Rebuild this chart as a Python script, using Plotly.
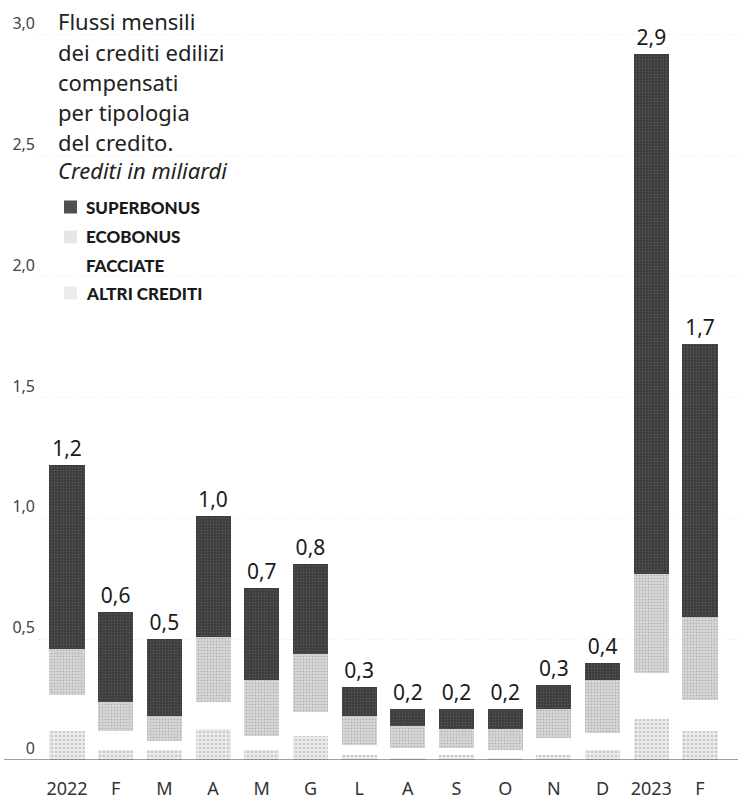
import plotly.graph_objects as go

# ---- data (miliardi di euro) ----
months = ["2022", "F", "M", "A", "M", "G", "L", "A", "S", "O", "N", "D", "2023", "F"]
superbonus = [0.76, 0.37, 0.32, 0.50, 0.38, 0.37, 0.12, 0.07, 0.08, 0.08, 0.10, 0.07, 2.15, 1.13]
ecobonus   = [0.19, 0.12, 0.10, 0.27, 0.23, 0.24, 0.12, 0.09, 0.08, 0.09, 0.12, 0.22, 0.41, 0.34]
facciate   = [0.15, 0.08, 0.04, 0.11, 0.06, 0.10, 0.04, 0.04, 0.03, 0.03, 0.07, 0.07, 0.19, 0.13]
altri      = [0.12, 0.04, 0.04, 0.13, 0.04, 0.10, 0.02, 0.01, 0.02, 0.01, 0.02, 0.04, 0.17, 0.12]
y_ticks = [0, 0.5, 1.0, 1.5, 2.0, 2.5, 3.0]
y_ticktext = ["0", "0,5", "1,0", "1,5", "2,0", "2,5", "3,0"]
title_lines = ["Flussi mensili", "dei crediti edilizi", "compensati", "per tipologia",
               "del credito.", "<i>Crediti in miliardi</i>"]
legend_names = ["SUPERBONUS", "ECOBONUS", "FACCIATE", "ALTRI CREDITI"]

xs = list(range(len(months)))
totals = [a + b + c + d for a, b, c, d in zip(superbonus, ecobonus, facciate, altri)]
total_text = [f"{t:.1f}".replace(".", ",") for t in totals]

W, H = 738, 799
ML, MR, MT, MB = 38, 0, 10, 39
PW, PH = W - ML - MR, H - MT - MB

def px_x(x):
    return (x - ML) / PW

def px_y(y):
    return (H - MB - y) / PH

FONT = "Noto Sans"

fig = go.Figure()
fig.add_bar(x=xs, y=altri, name="ALTRI CREDITI",
            marker=dict(color="#e3e3e3", line=dict(width=0),
                        pattern=dict(shape=".", fgcolor="#a5a5a5", bgcolor="#ececec",
                                     size=4, solidity=0.35)))
fig.add_bar(x=xs, y=facciate, name="FACCIATE",
            marker=dict(color="#ffffff", line=dict(width=0)))
fig.add_bar(x=xs, y=ecobonus, name="ECOBONUS",
            marker=dict(color="#cdcdcd", line=dict(width=0),
                        pattern=dict(shape=".", fgcolor="#8f8f8f", bgcolor="#d9d9d9",
                                     size=3, solidity=0.35)))
fig.add_bar(x=xs, y=superbonus, name="SUPERBONUS",
            text=total_text, textposition="outside", cliponaxis=False,
            textfont=dict(family=FONT, size=21, color="#1a1a1a"),
            marker=dict(color="#3c3c3c", line=dict(width=0),
                        pattern=dict(shape=".", fgcolor="#727272", bgcolor="#3a3a3a",
                                     size=3, solidity=0.3)))

fig.update_traces(showlegend=False)

fig.update_layout(
    width=W, height=H,
    margin=dict(l=ML, r=MR, t=MT, b=MB),
    barmode="stack", bargap=0.28,
    plot_bgcolor="white", paper_bgcolor="white",
    font=dict(family=FONT, color="#222"),
    xaxis=dict(tickvals=xs, ticktext=months, range=[-0.595, 13.78],
               showgrid=False, zeroline=False, showline=False, ticks="",
               tickfont=dict(family=FONT, size=18, color="#333"),
               ticklabelstandoff=16, fixedrange=True),
    yaxis=dict(tickvals=y_ticks, ticktext=y_ticktext, range=[0, 3.1],
               showgrid=True, gridcolor="#f2f2f2", griddash="dot", gridwidth=1,
               zeroline=False, showline=False, ticks="",
               ticklabelposition="outside top", ticklabelstandoff=2,
               tickfont=dict(family=FONT, size=16, color="#444"), fixedrange=True),
)

# baseline running across the full width
fig.add_shape(type="line", xref="paper", yref="y", x0=px_x(4), x1=1, y0=0, y1=0,
              line=dict(color="#444", width=1.2), layer="above")

# title block
title_y = [21, 51.5, 81.5, 112, 142, 170]
for txt, yp in zip(title_lines, title_y):
    fig.add_annotation(text=txt, xref="paper", yref="paper", x=px_x(56), y=px_y(yp),
                       xanchor="left", yanchor="middle", showarrow=False,
                       font=dict(family=FONT, size=22, color="#222"))

# legend
leg_y = [207, 237, 265, 293]
sw_colors = ["#4f4f4f", "#e6e6e6", "#ffffff", "#ececec"]
for name, yp, col in zip(legend_names, leg_y, sw_colors):
    fig.add_shape(type="rect", xref="paper", yref="paper",
                  x0=px_x(64), x1=px_x(77), y0=px_y(yp + 6.5), y1=px_y(yp - 6.5),
                  fillcolor=col, line=dict(width=0))
    fig.add_annotation(text=name, xref="paper", yref="paper", x=px_x(84), y=px_y(yp),
                       xanchor="left", yanchor="middle", showarrow=False,
                       font=dict(family="Lato", size=17, color="#1a1a1a", weight=900))

fig.write_html("out.html")
